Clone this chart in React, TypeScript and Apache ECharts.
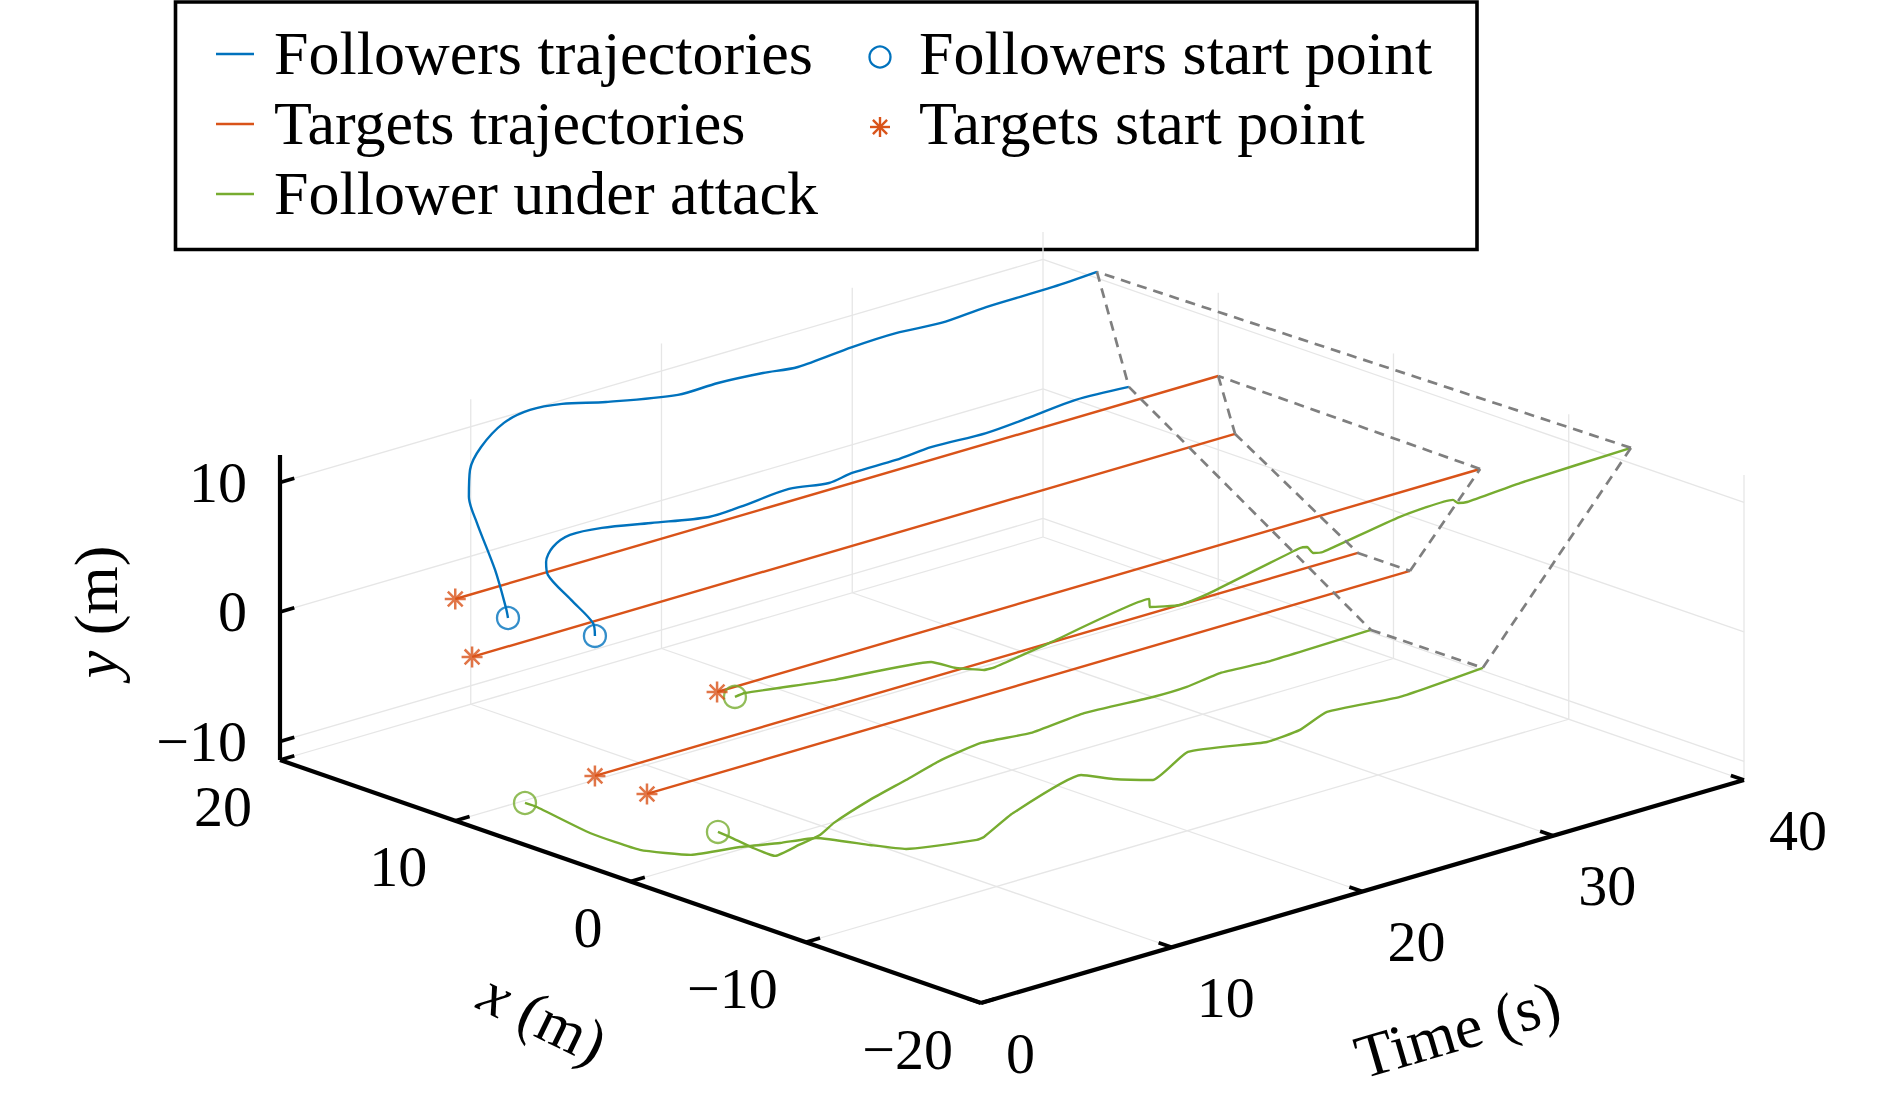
import React, { useEffect, useRef } from "react";
import * as echarts from "echarts";

// ---------------- axis ranges and ticks (data units) ----------------
const T_RANGE: [number, number] = [0, 40];
const X_RANGE: [number, number] = [-20, 20];
const Y_RANGE: [number, number] = [-11.43, 12.12];
const T_TICKS = [0, 10, 20, 30, 40];
const X_TICKS = [-20, -10, 0, 10, 20];
const Y_TICKS = [-10, 0, 10];

// ---------------- data ----------------
// targets are stationary: [x (m), y (m)]
const targetPositions = [
  [10.0, 5.69],
  [9.04, 1.67],
  [-4.94, 5.52],
  [2.03, -4.23],
  [-0.94, -4.23],
];
const targetTimes = [0, 40];

// followers: [t (s), x (m), y (m)]
const follower1 = [
  [0, 6.99, 5.64], [0.4, 7.54, 5.98], [1.5, 9.36, 7.59], [3.0, 12.03, 9.33],
  [4.5, 14.12, 9.71], [6.0, 15.69, 10.4], [7.5, 16.69, 11.06], [9.8, 17.89, 11.37],
  [11.5, 18.25, 11.47], [13.0, 18.06, 11.38], [15.2, 17.94, 10.64], [18.6, 17.54, 9.91],
  [20.6, 17.43, 10.02], [22.8, 17.26, 9.92], [24.6, 17.22, 9.63], [27.3, 17.07, 10.08],
  [29.6, 17.07, 10.17], [31.9, 17.0, 9.99], [34.2, 16.93, 10.26], [37.7, 16.92, 10.31],
  [40, 16.92, 10.48],
];
const follower2 = [
  [0, 2.03, 6.58], [0.4, 2.58, 7.15], [1.5, 5.02, 7.31], [3.0, 7.98, 7.21],
  [4.0, 9.17, 7.22], [5.2, 10.08, 7.44], [7.0, 11.07, 7.12], [9.0, 11.43, 6.64],
  [12.0, 11.89, 5.51], [16.0, 12.94, 3.76], [17.5, 12.8, 3.95], [20.5, 13.27, 3.83],
  [22.8, 13.49, 3.2], [24.2, 13.7, 3.27], [26.8, 14.02, 3.01], [28.8, 14.15, 3.09],
  [31.8, 14.32, 2.79], [34.2, 14.42, 2.94], [36.9, 14.8, 2.92], [40, 15.1, 2.46],
];
const attacked1 = [
  [0, -5.96, 5.62], [0.41, -6.08, 5.8], [4.39, -6.83, 5.45], [8.72, -7.66, 5.36],
  [9.83, -7.87, 4.52], [11.08, -8.11, 3.94], [11.58, -8.2, 3.99], [13.99, -8.66, 5.02],
  [18.45, -9.51, 6.91], [18.49, -9.51, 6.27], [19.84, -9.77, 5.96], [21.17, -10.02, 6.44],
  [25.19, -10.79, 8.54], [25.5, -10.85, 8.51], [25.77, -10.9, 7.96], [26.21, -10.98, 7.88],
  [29.65, -11.63, 9.42], [32.02, -12.08, 9.92], [32.24, -12.13, 9.61], [32.65, -12.2, 9.54],
  [35.01, -12.65, 10.2], [40, -13.55, 11.19],
];
const attacked2 = [
  [0, -4.99, -5.26], [0.73, -4.89, -6.02], [2.14, -4.66, -7.57], [3.49, -4.45, -8.87],
  [4.95, -4.22, -8.76], [6.24, -4.02, -8.64], [7.1, -3.88, -8.14], [9.31, -3.53, -7.48],
  [11.51, -3.19, -7.05], [13.66, -2.85, -6.6], [16.11, -2.46, -6.51], [19.17, -1.98, -7.28],
  [22.43, -1.47, -7.39], [26.65, -0.8, -8.28], [28.73, -0.47, -8.55], [30.77, -0.15, -8.51],
  [33.64, 0.3, -9.1], [40, 1.29, -9.83],
];
const attacked3 = [
  [0, 6.02, -8.19], [0.4, 5.78, -8.56], [1.0, 3.4, -9.71], [1.8, 1.42, -10.43],
  [3.0, -0.18, -10.58], [5.0, -0.81, -10.54], [6.5, -1.46, -10.57], [8.0, -1.88, -10.63],
  [9.0, -3.87, -10.67], [10.0, -4.84, -10.95], [12.5, -6.16, -10.71], [13.0, -6.02, -10.76],
  [14.5, -6.05, -9.55], [18.0, -6.12, -8.09], [19.8, -5.98, -9.23], [21.8, -6.08, -10.12],
  [23.6, -6.12, -8.71], [27.8, -6.06, -9.78], [29.5, -6.09, -9.57], [31.0, -6.0, -8.87],
  [34.9, -5.92, -9.42], [40, -5.1, -9.76],
];
// formation links at the final time (indices into followers / targets)
const followerRing = [0, 1, 3, 4, 2];
const targetRing = [0, 1, 3, 4, 2];

const LEGEND_LABELS = [
  "Followers trajectories",
  "Targets trajectories",
  "Follower under attack",
  "Followers start point",
  "Targets start point",
];
const AXIS_TITLES = { y: "y", yUnit: " (m)", x: "x", xUnit: " (m)", t: "Time (s)" };

// ---------------- view / style ----------------
const W = 1890;
const H = 1095;
const VIEW = {
  origin: [981, 1003], // corner t=min, x=min, y=min
  tVec: [763, -223],
  xVec: [-701, -243],
  yVec: [0, -305],
};
const BLUE = "#0072BD";
const ORANGE = "#D95319";
const GREEN = "#77AC30";
const GREY = "#7f7f7f";
const FONT = '"Liberation Serif", "Times New Roman", Times, serif';
const TICK_T = 0.75;
const TICK_X = 0.75;
const STAR_PATH =
  "path://M10,0L10,20M0,10L20,10M2.93,2.93L17.07,17.07M2.93,17.07L17.07,2.93";

function project(t: number, x: number, y: number): [number, number] {
  const ft = (t - T_RANGE[0]) / (T_RANGE[1] - T_RANGE[0]);
  const fx = (x - X_RANGE[0]) / (X_RANGE[1] - X_RANGE[0]);
  const fy = (y - Y_RANGE[0]) / (Y_RANGE[1] - Y_RANGE[0]);
  return [
    VIEW.origin[0] + ft * VIEW.tVec[0] + fx * VIEW.xVec[0] + fy * VIEW.yVec[0],
    VIEW.origin[1] + ft * VIEW.tVec[1] + fx * VIEW.xVec[1] + fy * VIEW.yVec[1],
  ];
}

function segRender(color: string, width: number, dash?: number[]) {
  return (_p: any, api: any) => {
    const a = api.coord(project(api.value(0), api.value(1), api.value(2)));
    const b = api.coord(project(api.value(3), api.value(4), api.value(5)));
    return {
      type: "line",
      shape: { x1: a[0], y1: a[1], x2: b[0], y2: b[1] },
      style: { stroke: color, lineWidth: width, lineDash: dash || null, fill: null },
    };
  };
}

const fmt = (v: number) => (v < 0 ? "\u2212" + Math.abs(v) : String(v));

function labelRender(dx: number, dy: number, align: string) {
  return (_p: any, api: any) => {
    const p = api.coord(project(api.value(0), api.value(1), api.value(2)));
    return {
      type: "text",
      x: p[0] + dx,
      y: p[1] + dy,
      style: {
        text: fmt(api.value(3)),
        fontSize: 58,
        fontFamily: FONT,
        fill: "#000",
        textAlign: align,
        textVerticalAlign: "middle",
      },
    };
  };
}

function buildOption() {
  const [t0, t1] = T_RANGE;
  const [x0, x1] = X_RANGE;
  const [y0, y1] = Y_RANGE;

  const gridSegs: number[][] = [];
  T_TICKS.filter((t) => t > t0).forEach((t) => {
    gridSegs.push([t, x1, y0, t, x1, y1]);
    gridSegs.push([t, x0, y0, t, x1, y0]);
  });
  X_TICKS.filter((x) => x < x1).forEach((x) => gridSegs.push([t1, x, y0, t1, x, y1]));
  X_TICKS.filter((x) => x > x0).forEach((x) => gridSegs.push([t0, x, y0, t1, x, y0]));
  Y_TICKS.forEach((y) => {
    gridSegs.push([t0, x1, y, t1, x1, y]);
    gridSegs.push([t1, x0, y, t1, x1, y]);
  });

  const axisSegs = [
    [t0, x1, y0, t0, x1, y1],
    [t0, x1, y0, t0, x0, y0],
    [t0, x0, y0, t1, x0, y0],
  ];
  const tickSegs = [
    ...Y_TICKS.map((y) => [t0, x1, y, t0 + TICK_T, x1, y]),
    ...X_TICKS.map((x) => [t0, x, y0, t0 + TICK_T, x, y0]),
    ...T_TICKS.map((t) => [t, x0, y0, t, x0 + TICK_X, y0]),
  ];

  const followers = [follower1, follower2, attacked1, attacked2, attacked3];
  const followerColor = (i: number) => (i < 2 ? BLUE : GREEN);

  const dashSegs: number[][] = [];
  followerRing.forEach((idx, k) => {
    const j = followerRing[(k + 1) % followerRing.length];
    const a = followers[idx][followers[idx].length - 1];
    const b = followers[j][followers[j].length - 1];
    dashSegs.push([...a, ...b]);
  });
  targetRing.forEach((idx, k) => {
    const j = targetRing[(k + 1) % targetRing.length];
    const a = targetPositions[idx];
    const b = targetPositions[j];
    dashSegs.push([t1, a[0], a[1], t1, b[0], b[1]]);
  });

  const series: any[] = [
    { type: "custom", renderItem: segRender("#e6e6e6", 1.3), data: gridSegs, z: 1, silent: true },
    { type: "custom", renderItem: segRender("#000", 4.2), data: axisSegs, z: 2, silent: true },
    { type: "custom", renderItem: segRender("#000", 3.6), data: tickSegs, z: 2, silent: true },
  ];
  targetPositions.forEach(([x, y]) => {
    series.push({
      type: "line",
      data: targetTimes.map((t) => project(t, x, y)),
      symbol: "none",
      lineStyle: { color: ORANGE, width: 2.4 },
      z: 3,
      silent: true,
    });
  });
  followers.forEach((f, i) => {
    series.push({
      type: "line",
      data: f.map(([t, x, y]) => project(t, x, y)),
      symbol: "none",
      smooth: i < 2 ? 0.3 : 0.15,
      lineStyle: { color: followerColor(i), width: 2.4 },
      z: 3,
      silent: true,
    });
  });
  series.push({
    type: "custom",
    renderItem: segRender(GREY, 2.7, [10, 7]),
    data: dashSegs,
    z: 4,
    silent: true,
  });
  series.push({
    type: "scatter",
    symbol: "circle",
    symbolSize: 22,
    data: followers.map((f, i) => ({
      value: project(f[0][0], f[0][1], f[0][2]),
      itemStyle: { borderColor: followerColor(i) },
    })),
    itemStyle: { color: "transparent", borderWidth: 2.3 },
    z: 5,
    silent: true,
  });
  series.push({
    type: "scatter",
    symbol: STAR_PATH,
    symbolSize: 21,
    data: targetPositions.map(([x, y]) => project(targetTimes[0], x, y)),
    itemStyle: { color: "transparent", borderColor: ORANGE, borderWidth: 2.5 },
    z: 5,
    silent: true,
  });
  series.push({
    type: "custom",
    data: Y_TICKS.map((y) => [t0, x1, y, y]),
    renderItem: labelRender(-33, 0, "right"),
    z: 6,
    silent: true,
  });
  series.push({
    type: "custom",
    data: X_TICKS.map((x) => [t0, x, y0, x]),
    renderItem: labelRender(-28, 46, "right"),
    z: 6,
    silent: true,
  });
  series.push({
    type: "custom",
    data: T_TICKS.map((t) => [t, x0, y0, t]),
    renderItem: labelRender(25, 50, "left"),
    z: 6,
    silent: true,
  });

  // axis titles
  const yAnchor = project(t0, x1, 0);
  const xAnchor = project(t0, 0, y0);
  const tAnchor = project((t0 + t1) / 2, x0, y0);
  const titleStyle = (text: string) => ({
    text,
    fontSize: 62,
    fontFamily: FONT,
    fill: "#000",
    textAlign: "center",
    textVerticalAlign: "middle",
    rich: { i: { fontStyle: "italic", fontSize: 62, fontFamily: FONT, fill: "#000" } },
  });

  // legend
  const rows = [54, 124, 194];
  const star = (cx: number, cy: number, r: number) => ({
    type: "group",
    children: [
      [0, -r, 0, r],
      [-r, 0, r, 0],
      [-r * 0.707, -r * 0.707, r * 0.707, r * 0.707],
      [-r * 0.707, r * 0.707, r * 0.707, -r * 0.707],
    ].map((s) => ({
      type: "line",
      shape: { x1: cx + s[0], y1: cy + s[1], x2: cx + s[2], y2: cy + s[3] },
      style: { stroke: ORANGE, lineWidth: 2.4 },
    })),
  });
  const legendText = (text: string, x: number, y: number) => ({
    type: "text",
    x,
    y,
    style: {
      text,
      fontSize: 62,
      fontFamily: FONT,
      fill: "#000",
      textAlign: "left",
      textVerticalAlign: "middle",
    },
  });
  const legendLine = (color: string, y: number) => ({
    type: "line",
    shape: { x1: 216, y1: y, x2: 254, y2: y },
    style: { stroke: color, lineWidth: 2.5 },
  });

  const graphic: any[] = [
    {
      type: "text",
      x: yAnchor[0] - 184,
      y: yAnchor[1],
      rotation: Math.PI / 2,
      style: titleStyle("{i|" + AXIS_TITLES.y + "}" + AXIS_TITLES.yUnit),
      z: 10,
    },
    {
      type: "text",
      x: xAnchor[0] - 87,
      y: xAnchor[1] + 136,
      rotation: (-26 * Math.PI) / 180,
      style: titleStyle("{i|" + AXIS_TITLES.x + "}" + AXIS_TITLES.xUnit),
      z: 10,
    },
    {
      type: "text",
      x: tAnchor[0] + 95,
      y: tAnchor[1] + 138,
      rotation: Math.atan2(-VIEW.tVec[1], VIEW.tVec[0]),
      style: titleStyle(AXIS_TITLES.t),
      z: 10,
    },
    {
      type: "group",
      z: 20,
      children: [
        {
          type: "rect",
          shape: { x: 175.5, y: 2, width: 1301.5, height: 247.5 },
          style: { fill: "#fff", stroke: "#000", lineWidth: 3.6 },
        },
        legendLine(BLUE, rows[0]),
        legendLine(ORANGE, rows[1]),
        legendLine(GREEN, rows[2]),
        legendText(LEGEND_LABELS[0], 274, rows[0] - 1),
        legendText(LEGEND_LABELS[1], 274, rows[1] - 1),
        legendText(LEGEND_LABELS[2], 274, rows[2] - 1),
        {
          type: "circle",
          shape: { cx: 880, cy: rows[0] + 3, r: 10.5 },
          style: { fill: "none", stroke: BLUE, lineWidth: 2.3 },
        },
        star(880, rows[1] + 3, 10),
        legendText(LEGEND_LABELS[3], 919, rows[0] - 1),
        legendText(LEGEND_LABELS[4], 919, rows[1] - 1),
      ],
    },
  ];

  return {
    animation: false,
    backgroundColor: "#fff",
    grid: { left: 0, right: 0, top: 0, bottom: 0, containLabel: false },
    xAxis: { type: "value", min: 0, max: W, show: false },
    yAxis: { type: "value", min: 0, max: H, inverse: true, show: false },
    tooltip: { show: false },
    series,
    graphic,
  };
}

export default function App() {
  const ref = useRef<HTMLDivElement>(null);
  useEffect(() => {
    if (!ref.current) return;
    const chart = echarts.init(ref.current, null, { renderer: "svg" });
    chart.setOption(buildOption() as any);
    return () => chart.dispose();
  }, []);
  return (
    <div
      ref={ref}
      style={{ position: "absolute", left: 0, top: 0, width: W, height: H, background: "#fff" }}
    />
  );
}
